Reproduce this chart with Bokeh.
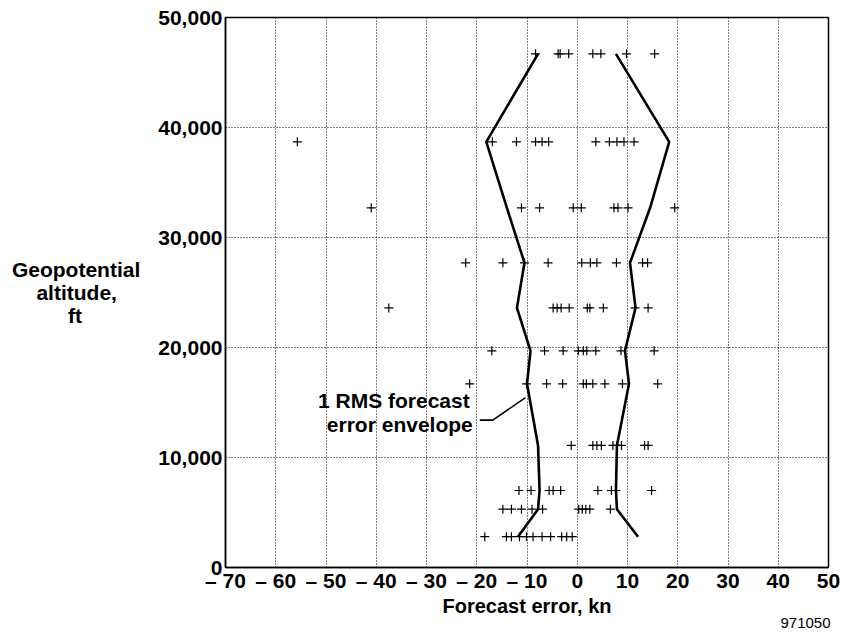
from bokeh.plotting import figure
from bokeh.models import Range1d, Label, FixedTicker, ColumnDataSource, Title
from bokeh.embed import file_html
from bokeh.resources import INLINE

# ---- axis ticks ----
x_ticks = [-70, -60, -50, -40, -30, -20, -10, 0, 10, 20, 30, 40, 50]
x_tick_labels = ["\u2013 70", "\u2013 60", "\u2013 50", "\u2013 40", "\u2013 30", "\u2013 20",
                 "\u2013 10", "0", "10", "20", "30", "40", "50"]
y_ticks = [0, 10000, 20000, 30000, 40000, 50000]
y_tick_labels = ["0", "10,000", "20,000", "30,000", "40,000", "50,000"]

# ---- data: altitude levels (ft) and 1 RMS envelope (kn) ----
levels = [2800, 5300, 7000, 11100, 16700, 19700, 23600, 27700, 32700, 38700, 46700]
rms_left = [-11.8, -7.8, -7.5, -7.8, -10.0, -9.3, -12.0, -10.5, -14.0, -18.1, -7.8]
rms_right = [12.1, 7.9, 7.7, 7.9, 10.3, 9.5, 11.6, 10.5, 14.5, 18.3, 7.7]

# ---- forecast errors (kn) observed at each level ----
err_2800 = [-18.4, -14.1, -13.1, -11.5, -10.1, -8.8, -7.0, -5.3, -3.1, -2.1, -1.0]
err_5300 = [-14.8, -13.1, -11.1, -9.0, -6.9, 0.3, 1.0, 1.7, 2.5, 6.6]
err_7000 = [-11.6, -9.2, -5.6, -4.8, -3.3, 4.1, 6.8, 7.7, 14.8]
err_11100 = [-1.2, 3.1, 3.9, 4.8, 7.1, 7.9, 8.8, 13.4, 14.1]
err_16700 = [-21.4, -10.1, -6.1, -2.9, 1.2, 1.8, 3.1, 5.5, 9.0, 16.0]
err_19700 = [-17.0, -6.5, -2.8, 0.2, 1.2, 1.9, 3.7, 8.7, 15.3]
err_23600 = [-37.5, -4.8, -4.0, -3.2, -1.6, 2.0, 2.5, 5.2, 11.5, 14.1]
err_27700 = [-22.2, -14.8, -10.5, -5.8, 0.9, 2.6, 3.9, 7.8, 13.0, 14.0]
err_32700 = [-41.0, -11.1, -7.5, -0.8, 0.8, 7.3, 8.1, 10.1, 19.4]
err_38700 = [-55.7, -16.9, -12.1, -8.3, -7.0, -5.7, 3.7, 6.4, 7.9, 9.3, 11.3]
err_46700 = [-8.3, -3.8, -3.4, -1.7, 3.1, 4.7, 9.8, 15.4]

errors_by_level = [err_2800, err_5300, err_7000, err_11100, err_16700, err_19700,
                   err_23600, err_27700, err_32700, err_38700, err_46700]

pts_x, pts_y = [], []
for lev, errs in zip(levels, errors_by_level):
    for e in errs:
        pts_x.append(e)
        pts_y.append(lev)

FONT = "Liberation Sans"
NB = "\u00a0"

p = figure(width=846, height=632, output_backend="svg", toolbar_location=None,
           x_range=Range1d(-70, 50), y_range=Range1d(0, 50000),
           min_border_left=225, min_border_right=18, min_border_top=17, min_border_bottom=65)
p.background_fill_color = "white"
p.border_fill_color = "white"
p.outline_line_color = "black"
p.outline_line_width = 1.5

p.xaxis.ticker = FixedTicker(ticks=x_ticks)
p.yaxis.ticker = FixedTicker(ticks=y_ticks)
p.xaxis.major_label_overrides = {t: s for t, s in zip(x_ticks, x_tick_labels)}
p.yaxis.major_label_overrides = {t: s for t, s in zip(y_ticks, y_tick_labels)}
for ax in (p.xaxis, p.yaxis):
    ax.major_label_text_font = FONT
    ax.major_label_text_font_style = "bold"
    ax.major_label_text_font_size = "21px"
    ax.major_label_text_color = "black"
    ax.axis_line_color = "black"
    ax.axis_line_width = 1.5
    ax.major_tick_out = 0
    ax.major_tick_in = 0
    ax.minor_tick_out = 0
    ax.minor_tick_in = 0
    ax.axis_label_text_font = FONT
    ax.axis_label_text_font_style = "bold"
    ax.axis_label_text_font_size = "20px"
    ax.axis_label_text_color = "black"
p.xaxis.major_label_standoff = 1
p.yaxis.major_label_standoff = 3
p.xaxis.axis_label = "Forecast error, kn"
p.xaxis.axis_label_standoff = 0

# horizontal, centred three-line y title (centring done with no-break spaces)
p.yaxis.axis_label = "Geopotential\naltitude," + NB * 4 + "\nft" + NB * 10
p.yaxis.axis_label_orientation = "horizontal"
p.yaxis.axis_label_standoff = 15
p.yaxis.axis_label_text_font_size = "21px"
p.yaxis.axis_label_text_line_height = 1.0

p.xgrid.ticker = FixedTicker(ticks=x_ticks)
p.ygrid.ticker = FixedTicker(ticks=y_ticks)
for g in (p.xgrid, p.ygrid):
    g.grid_line_color = "black"
    g.grid_line_dash = "1 2"
    g.grid_line_width = 1
    g.grid_line_alpha = 1.0

# envelope lines
p.line(rms_left, levels, line_color="black", line_width=2.6)
p.line(rms_right, levels, line_color="black", line_width=2.6)

# data points
src = ColumnDataSource(dict(x=pts_x, y=pts_y))
p.scatter("x", "y", source=src, marker="cross", size=9, line_color="black", line_width=1.2)

# leader line for annotation
p.line([-19.4, -16.8, -10.3], [13400, 13400, 15450], line_color="black", line_width=1.6)

def lab(x, y, text, size="21px", style="bold", align="center", baseline="middle"):
    p.add_layout(Label(x=x, y=y, text=text, text_font=FONT, text_font_style=style,
                       text_font_size=size, text_align=align, text_baseline=baseline,
                       text_color="black"))

lab(-21.4, 15150, "1 RMS forecast", align="right", baseline="alphabetic")
lab(-20.8, 13030, "error envelope", align="right", baseline="alphabetic")

# figure id below the axis
fig_id = Title(text="971050", align="right", text_font=FONT, text_font_style="normal",
               text_font_size="15px", text_color="black", standoff=-7, offset=-2,
               text_line_height=1.0)
p.add_layout(fig_id, "below")

open("out.html", "w").write(file_html(p, INLINE))
